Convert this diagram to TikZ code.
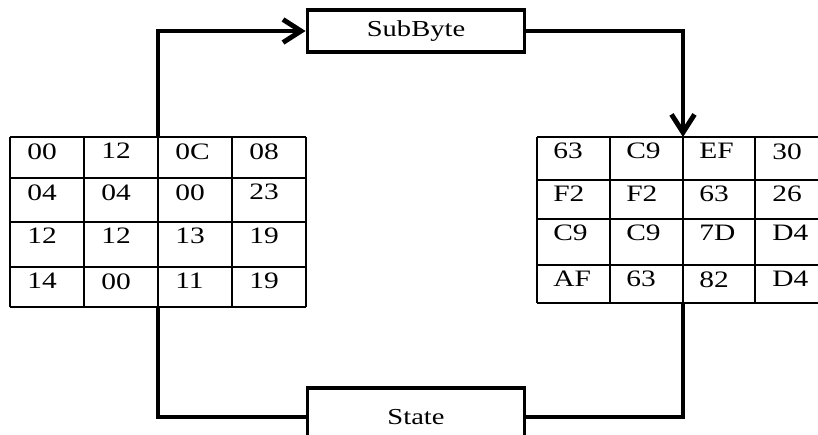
\documentclass[tikz,border=0pt]{standalone}
\usepackage{fontspec}
\setmainfont{Liberation Serif}[FakeStretch=1.25]
\usetikzlibrary{calc}
\usetikzlibrary{arrows.meta}

\tikzset{
  opbox/.style={draw,line width=2.2pt,fill=white,minimum width=4.34cm,font=\fontsize{13}{15}\selectfont},
  flow/.style={line width=2.8pt,line join=miter},
  cell/.style={anchor=north west,inner sep=0pt,font=\fontsize{13.4}{15}\selectfont},
  grid line/.style={line width=1pt},
}

\begin{document}
\begin{tikzpicture}[x=0.02cm,y=-0.02cm]
\useasboundingbox (0,0) rectangle (818,434);
\clip (0,0) rectangle (818,434);

% input state, 4x4 bytes
\foreach \x in {10,84,158,232,306} \draw[grid line] (\x,137) -- (\x,307);
\foreach \y in {137,178,222,267,307} \draw[grid line] (10,\y) -- (306,\y);
\foreach \v [count=\c] in {00,12,0C,08} \node[cell] (in-1-\c) at ({27+74*(\c-1)},143) {\v};
\foreach \v [count=\c] in {04,04,00,23} \node[cell] (in-2-\c) at ({27+74*(\c-1)},184) {\v};
\foreach \v [count=\c] in {12,12,13,19} \node[cell] (in-3-\c) at ({27+74*(\c-1)},228) {\v};
\foreach \v [count=\c] in {14,00,11,19} \node[cell] (in-4-\c) at ({27+74*(\c-1)},273) {\v};

% output state after substitution
\foreach \x in {537,610,683,755,828} \draw[grid line] (\x,137) -- (\x,303);
\foreach \y in {137,180,219,265,303} \draw[grid line] (537,\y) -- (828,\y);
\foreach \v [count=\c] in {63,C9,EF,30} \node[cell] (out-1-\c) at ({553+73*(\c-1)},143) {\v};
\foreach \v [count=\c] in {F2,F2,63,26} \node[cell] (out-2-\c) at ({553+73*(\c-1)},186) {\v};
\foreach \v [count=\c] in {C9,C9,7D,D4} \node[cell] (out-3-\c) at ({553+73*(\c-1)},225) {\v};
\foreach \v [count=\c] in {AF,63,82,D4} \node[cell] (out-4-\c) at ({553+73*(\c-1)},271) {\v};

% the two steps
\node[opbox,minimum height=0.84cm] (sub) at (416,31) {SubByte};
\node[opbox,minimum height=1.16cm] (state) at (416,417) {State};

\coordinate (inTop) at (158,137);
\coordinate (inBot) at (158,307);
\coordinate (outTop) at (683,137);
\coordinate (outBot) at (683,303);

\draw[flow,-{Straight Barb[length=3.6mm,width=4.6mm]}] (inTop) |- (sub.west);
\draw[flow,-{Straight Barb[length=3.6mm,width=4.6mm]}] (sub.east) -| (outTop);
\draw[flow] (outBot) |- (state.east);
\draw[flow] (inBot) |- (state.west);
\end{tikzpicture}
\end{document}
